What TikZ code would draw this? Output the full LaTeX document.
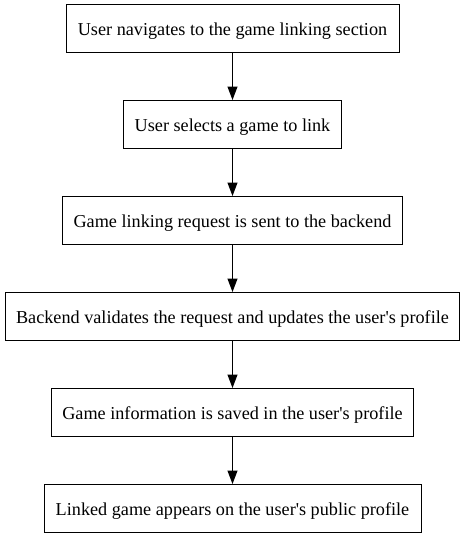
\documentclass[tikz,border=0pt]{standalone}
\usepackage{fontspec}
\setmainfont{Liberation Serif}
\usetikzlibrary{arrows.meta}
\begin{document}
\begin{tikzpicture}[x=1pt,y=-1pt,
  stepbox/.style={draw, line width=1pt, minimum height=48pt, inner sep=0pt, text height=14pt, text depth=0pt, font=\fontsize{18.2}{20}\selectfont},
  conn/.style={line width=1pt, -{Triangle[length=13.5pt,width=10pt]}}]
\useasboundingbox (0,0) rectangle (464,539);
\node[stepbox, minimum width=333pt] (a) at (232.5,28.5) {User navigates to the game linking section};
\node[stepbox, minimum width=218pt] (b) at (232.5,124.5) {User selects a game to link};
\node[stepbox, minimum width=340pt] (c) at (232.5,220.5) {Game linking request is sent to the backend};
\node[stepbox, minimum width=454pt] (d) at (232.5,316.5) {Backend validates the request and updates the user\textquotesingle s profile};
\node[stepbox, minimum width=362pt] (e) at (232.5,412.5) {Game information is saved in the user\textquotesingle s profile};
\node[stepbox, minimum width=377pt] (f) at (232.5,508.5) {Linked game appears on the user\textquotesingle s public profile};
\draw[conn] (a) -- (b);
\draw[conn] (b) -- (c);
\draw[conn] (c) -- (d);
\draw[conn] (d) -- (e);
\draw[conn] (e) -- (f);
\end{tikzpicture}
\end{document}
